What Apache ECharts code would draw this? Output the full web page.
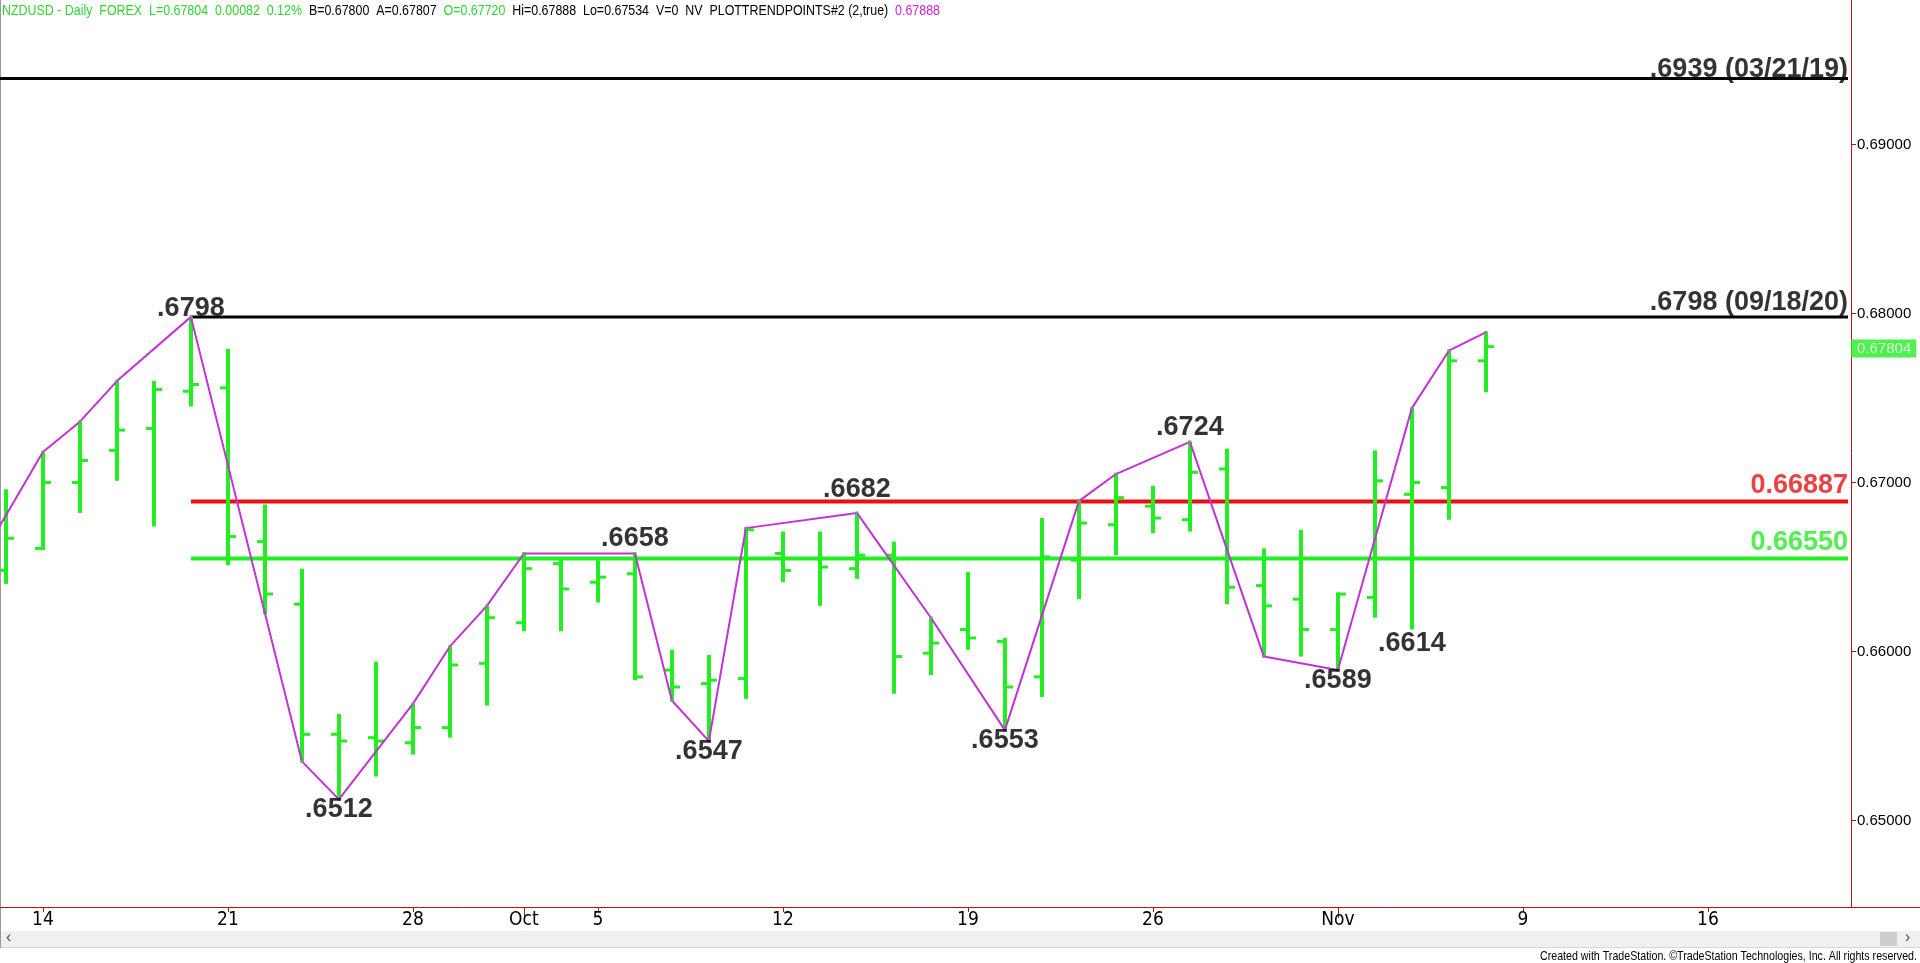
<!DOCTYPE html>
<html><head><meta charset="utf-8">
<script src="https://cdn.jsdelivr.net/npm/echarts@6/dist/echarts.min.js"></script>
<style>html,body{margin:0;padding:0;background:#fff;overflow:hidden}#c{width:1920px;height:963px}</style>
</head><body><div id="c"></div>
<script>
// trading days on the axis (Sep 10 is just left of the visible window)
const dates = [
 '2020-09-10','2020-09-11','2020-09-14','2020-09-15','2020-09-16','2020-09-17','2020-09-18',
 '2020-09-21','2020-09-22','2020-09-23','2020-09-24','2020-09-25','2020-09-28','2020-09-29','2020-09-30',
 '2020-10-01','2020-10-02','2020-10-05','2020-10-06','2020-10-07','2020-10-08','2020-10-09',
 '2020-10-12','2020-10-13','2020-10-14','2020-10-15','2020-10-16','2020-10-19','2020-10-20','2020-10-21',
 '2020-10-22','2020-10-23','2020-10-26','2020-10-27','2020-10-28','2020-10-29','2020-10-30',
 '2020-11-02','2020-11-03','2020-11-04','2020-11-05','2020-11-06','2020-11-09','2020-11-10','2020-11-11',
 '2020-11-12','2020-11-13','2020-11-16','2020-11-17','2020-11-18','2020-11-19','2020-11-20'
];
const barDates = dates.slice(1, 42);
const opens  = [0.6648,0.6661,0.6700,0.6719,0.6732,0.6754,0.6756,0.6665,0.6628,0.6551,0.6549,0.6546,0.6555,0.6593,0.6617,0.6652,0.6641,0.6646,0.6589,0.6581,0.6584,0.6658,0.6655,0.6649,0.6657,0.6599,0.6613,0.6606,0.6585,0.6654,0.6675,0.6686,0.6678,0.6708,0.6639,0.6631,0.6613,0.6632,0.6693,0.6697,0.67720];
const highs  = [0.6696,0.6718,0.6736,0.6760,0.6760,0.6798,0.6779,0.6687,0.6649,0.6563,0.6594,0.6569,0.6603,0.6627,0.6658,0.6656,0.6654,0.6658,0.6601,0.6598,0.6673,0.6671,0.6671,0.6682,0.6665,0.6620,0.6647,0.6608,0.6679,0.6689,0.6705,0.6698,0.6724,0.6720,0.6661,0.6672,0.6635,0.6719,0.6744,0.6778,0.67888];
const lows   = [0.6640,0.6660,0.6682,0.6701,0.6674,0.6745,0.6651,0.6622,0.6535,0.65125,0.6526,0.6539,0.6549,0.6568,0.6612,0.6612,0.6629,0.6583,0.6571,0.6547,0.6572,0.6641,0.6627,0.6643,0.6575,0.6586,0.6601,0.65535,0.6573,0.6631,0.6657,0.6670,0.6671,0.6628,0.6597,0.6597,0.6589,0.6620,0.6613,0.6678,0.67534];
const closes = [0.6667,0.6700,0.6713,0.6731,0.6755,0.6758,0.6668,0.6634,0.6551,0.6547,0.6547,0.6555,0.6592,0.6620,0.6649,0.6637,0.6644,0.6585,0.6579,0.6583,0.6672,0.6648,0.6650,0.6657,0.6597,0.6605,0.6608,0.6579,0.6656,0.6676,0.6691,0.6679,0.6706,0.6638,0.6627,0.6613,0.6634,0.6701,0.6700,0.6772,0.67804];

// PLOTTRENDPOINTS zigzag
const zigDates  = ['2020-09-10','2020-09-14','2020-09-15','2020-09-16','2020-09-18','2020-09-23','2020-09-24','2020-09-28','2020-09-29','2020-09-30','2020-10-01','2020-10-06','2020-10-07','2020-10-08','2020-10-09','2020-10-14','2020-10-16','2020-10-20','2020-10-22','2020-10-23','2020-10-27','2020-10-29','2020-11-02','2020-11-04','2020-11-05','2020-11-06'];
const zigValues = [0.6643,0.6718,0.6736,0.6760,0.6798,0.6535,0.65125,0.6569,0.6603,0.6627,0.6658,0.6658,0.6571,0.6547,0.6673,0.6682,0.6620,0.65535,0.6689,0.6705,0.6724,0.6597,0.6589,0.6744,0.6778,0.67888];

// pivot labels (value = price level where the label sits in the picture)
const pivotDates  = ['2020-09-18','2020-09-24','2020-10-06','2020-10-08','2020-10-14','2020-10-20','2020-10-27','2020-11-02','2020-11-04'];
const pivotValues = [0.67945,0.65125,0.6658,0.6547,0.6687,0.65535,0.6724,0.6589,0.6611];
const pivotTexts  = ['.6798','.6512','.6658','.6547','.6682','.6553','.6724','.6589','.6614'];
const pivotAbove  = [true,false,true,false,true,false,true,false,false];

// horizontal levels
const levelValues = [0.6939, 0.6798, 0.66887, 0.66550];
const levelTexts  = ['.6939 (03/21/19)', '.6798 (09/18/20)', '0.66887', '0.66550'];
const levelStart  = [null, '2020-09-18', '2020-09-18', '2020-09-18'];

const yTicks = [0.65, 0.66, 0.67, 0.68, 0.69];
const xTickDates  = ['2020-09-14','2020-09-21','2020-09-28','2020-10-01','2020-10-05','2020-10-12','2020-10-19','2020-10-26','2020-11-02','2020-11-09','2020-11-16'];
const xTickLabels = ['14','21','28','Oct','5','12','19','26','Nov','9','16'];
const monthTickDates = ['2020-10-01','2020-11-02'];
const lastPrice = 0.67804;

const headerParts = [
  ['g','NZDUSD - Daily  FOREX  L=0.67804  0.00082  0.12%'],
  ['k','  B=0.67800  A=0.67807  '],
  ['g','O=0.67720'],
  ['k','  Hi=0.67888  Lo=0.67534  V=0  NV  PLOTTRENDPOINTS#2 (2,true)  '],
  ['m','0.67888']
];
const footerText = 'Created with TradeStation. \u00A9TradeStation Technologies, Inc. All rights reserved.';

// ---------- build ----------
const idx = d => dates.indexOf(d);
const X_MIN = 0.8405, X_MAX = 50.868;
const Y_MIN = 0.644882, Y_MAX = 0.69855;
const GREEN = '#22ee22', RED = '#e81010', DARKRED = '#b3141b', MAG = '#c232d6';
const ARIAL = "'Liberation Sans',Arial,sans-serif";
const CONDENSED = "'Liberation Sans Narrow','Arial Narrow','DejaVu Sans Condensed',sans-serif";

function textWidth(str, font) {
  const ctx = document.createElement('canvas').getContext('2d');
  ctx.font = font;
  return ctx.measureText(str).width;
}

const bars = barDates.map((d, i) => [idx(d), opens[i], highs[i], lows[i], closes[i]]);
const tickIdx = xTickDates.map(idx);
const labelMap = {}; tickIdx.forEach((t, i) => labelMap[t] = xTickLabels[i]);

const series = [];
series.push({
  type: 'custom', name: 'bars', data: bars, clip: true, z: 3,
  encode: { x: 0, y: [1, 2, 3, 4] },
  renderItem(params, api) {
    const x = api.value(0);
    const pH = api.coord([x, api.value(2)]), pL = api.coord([x, api.value(3)]);
    const pO = api.coord([x, api.value(1)]), pC = api.coord([x, api.value(4)]);
    const cx = Math.round(pH[0]);
    const st = { fill: GREEN };
    return { type: 'group', children: [
      { type: 'rect', shape: { x: cx - 2, y: pH[1], width: 4, height: pL[1] - pH[1] }, style: st },
      { type: 'rect', shape: { x: cx - 8, y: pO[1] - 1.5, width: 8, height: 3 }, style: st },
      { type: 'rect', shape: { x: cx, y: pC[1] - 1.5, width: 8, height: 3 }, style: st }
    ]};
  }
});

const levelColors = ['#000', '#000', RED, GREEN];
const levelWidths = [3, 3, 4, 4];
const levelOffsets = [[0, 4], [0, -1], [0, -3], [0, -3]];
levelValues.forEach((v, i) => {
  const s = levelStart[i] ? idx(levelStart[i]) : X_MIN;
  const e = X_MAX - 3 / 37;
  series.push({
    type: 'line', data: [[s, v], [e, v]], showSymbol: false, symbol: 'none', z: 2,
    lineStyle: { color: levelColors[i], width: levelWidths[i] }, silent: true, animation: false
  });
  series.push({
    type: 'scatter', data: [[e, v]], symbolSize: 0, silent: true, z: 6, animation: false,
    label: { show: true, position: 'top', align: 'right', distance: 0, offset: levelOffsets[i],
      formatter: levelTexts[i], color: levelColors[i],
      fontFamily: ARIAL, fontWeight: 'bold', fontSize: 27 }
  });
});

series.push({
  type: 'line', name: 'zigzag', data: zigDates.map((d, i) => [idx(d), zigValues[i]]),
  z: 4, symbol: 'rect', symbolSize: 3, showSymbol: true, itemStyle: { color: '#8a8a8a' },
  lineStyle: { color: MAG, width: 2 }, animation: false, silent: true
});

// last price tag on the price axis
series.push({
  type: 'scatter', data: [[X_MAX, lastPrice]], symbolSize: 0, clip: false, silent: true, z: 10,
  label: { show: true, position: 'right', distance: 0, offset: [0, 2], formatter: p => p.value[1].toFixed(5),
    color: '#fff', backgroundColor: GREEN, padding: [2, 5, 1, 6], fontFamily: ARIAL, fontSize: 15 }
});

series.push({
  type: 'scatter', symbolSize: 0, silent: true, z: 6, animation: false,
  data: pivotDates.map((d, i) => ({
    value: [idx(d), pivotValues[i]],
    label: { position: pivotAbove[i] ? 'top' : 'bottom', offset: pivotAbove[i] ? [0, 0] : [0, -4], formatter: pivotTexts[i] }
  })),
  label: { show: true, distance: 1, color: '#000', fontFamily: ARIAL, fontWeight: 'bold', fontSize: 27 }
});

// header / footer as text, horizontally condensed like the source
const HEAD_FONT_SIZE = 15;
const headerPlain = headerParts.map(p => p[1]).join('');
const headScale = 938 / textWidth(headerPlain, HEAD_FONT_SIZE + "px 'Liberation Sans'");
const headerText = headerParts.map(p => '{' + p[0] + '|' + p[1] + '}').join('');
const FOOT_FONT_SIZE = 13;
const footScale = 377 / textWidth(footerText, FOOT_FONT_SIZE + "px 'Liberation Sans'");

const option = {
  backgroundColor: '#fff',
  animation: false,
  grid: { left: 0, right: 69, top: 0, bottom: 56, containLabel: false },
  xAxis: [{
    type: 'value', min: X_MIN, max: X_MAX, position: 'bottom',
    axisLine: { show: true, lineStyle: { color: DARKRED, width: 1 } },
    axisTick: { show: true, customValues: tickIdx, length: 5, lineStyle: { color: DARKRED } },
    axisLabel: { show: true, customValues: tickIdx, formatter: v => labelMap[v] || '', color: '#000',
      fontFamily: CONDENSED, fontSize: 19, margin: 4 },
    splitLine: { show: false }
  }, {
    type: 'value', min: X_MIN, max: X_MAX, position: 'bottom',
    axisLine: { show: false },
    axisTick: { show: true, customValues: monthTickDates.map(idx), length: 11, lineStyle: { color: DARKRED } },
    axisLabel: { show: false }, splitLine: { show: false }
  }],
  yAxis: {
    type: 'value', min: Y_MIN, max: Y_MAX, position: 'right',
    axisLine: { show: true, lineStyle: { color: DARKRED, width: 1 } },
    axisTick: { show: true, customValues: yTicks, length: 5, lineStyle: { color: DARKRED } },
    axisLabel: { show: true, customValues: yTicks, formatter: v => v.toFixed(5), color: '#000',
      fontFamily: ARIAL, fontSize: 15, margin: 6 },
    splitLine: { show: false }
  },
  graphic: [
    { type: 'line', shape: { x1: 1851, y1: 907.5, x2: 1920, y2: 907.5 }, style: { stroke: DARKRED, lineWidth: 1 }, silent: true },
    { type: 'rect', shape: { x: 0, y: 931, width: 1920, height: 16 }, style: { fill: '#f0f0f0' }, silent: true },
    { type: 'line', shape: { x1: 0, y1: 947.5, x2: 1920, y2: 947.5 }, style: { stroke: '#d8d8d8', lineWidth: 1 }, silent: true },
    { type: 'rect', shape: { x: 1880, y: 932, width: 17, height: 14 }, style: { fill: '#cdcdcd' }, silent: true },
    { type: 'text', x: 6, y: 930, style: { text: '\u2039', font: "16px 'Liberation Sans'", fill: '#505050' }, silent: true },
    { type: 'text', x: 1905, y: 930, style: { text: '\u203A', font: "16px 'Liberation Sans'", fill: '#505050' }, silent: true },
    { type: 'line', shape: { x1: 0.5, y1: 0, x2: 0.5, y2: 948 }, style: { stroke: '#9a9a9a', lineWidth: 1 }, silent: true },
    { type: 'text', x: 2, y: 3, scaleX: headScale, silent: true, z: 20,
      style: { text: headerText, font: HEAD_FONT_SIZE + "px 'Liberation Sans'", rich: {
        g: { fill: '#2fd62f', font: HEAD_FONT_SIZE + "px 'Liberation Sans'" },
        k: { fill: '#000', font: HEAD_FONT_SIZE + "px 'Liberation Sans'" },
        m: { fill: '#d020d0', font: HEAD_FONT_SIZE + "px 'Liberation Sans'" }
      } } },
    { type: 'text', x: 1917, y: 950, scaleX: footScale, silent: true,
      style: { text: footerText, align: 'right', font: FOOT_FONT_SIZE + "px 'Liberation Sans'", fill: '#000' } }
  ],
  series
};

const chart = echarts.init(document.getElementById('c'), null, { renderer: 'canvas' });
chart.setOption(option);
</script>
</body></html>
